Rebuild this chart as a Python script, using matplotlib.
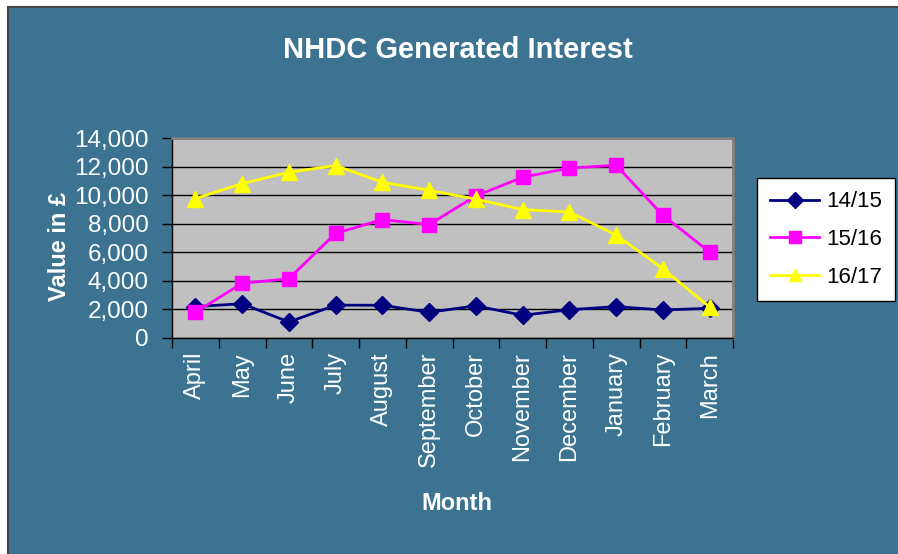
import matplotlib
matplotlib.use("Agg")
import matplotlib.pyplot as plt
from matplotlib.patches import Rectangle
from matplotlib.ticker import FuncFormatter, FixedLocator

plt.rcParams['font.family'] = ['Liberation Sans', 'DejaVu Sans']

months = ["April", "May", "June", "July", "August", "September", "October",
          "November", "December", "January", "February", "March"]
s1415 = [2200, 2400, 1120, 2300, 2290, 1800, 2250, 1590, 1980, 2200, 1960, 2080]
s1516 = [1800, 3830, 4150, 7330, 8290, 7940, 9950, 11250, 11900, 12090, 8590, 6020]
s1617 = [9760, 10810, 11600, 12070, 10900, 10340, 9720, 8990, 8820, 7210, 4850, 2170]
series_names = ["14/15", "15/16", "16/17"]

W, H = 898, 554
fig = plt.figure(figsize=(W / 100, H / 100), dpi=100)
fig.patch.set_facecolor("white")
bg = "#3B7390"

bgax = fig.add_axes([0, 0, 1, 1], zorder=-10)
bgax.set_xlim(0, W)
bgax.set_ylim(H, 0)
bgax.axis("off")
bgax.add_patch(Rectangle((7.5, 7), W, H, facecolor=bg,
                         edgecolor="#444444", linewidth=1.5))

x0, x1, y0, y1 = 172, 733, 138, 338
ax = fig.add_axes([x0 / W, 1 - y1 / H, (x1 - x0) / W, (y1 - y0) / H], zorder=1)
ax.set_facecolor("#C0C0C0")

x = list(range(len(months)))
ax.plot(x, s1415, color="#000080", marker="D", markersize=9, linewidth=2, label=series_names[0], zorder=3)
ax.plot(x, s1516, color="#FF00FF", marker="s", markersize=10, linewidth=2, label=series_names[1], zorder=3)
ax.plot(x, s1617, color="#FFFF00", marker="^", markersize=12, linewidth=2, label=series_names[2], zorder=3)

ax.set_xlim(-0.5, len(months) - 0.5)
ax.set_ylim(0, 14000)
ax.set_yticks(range(0, 14001, 2000))
ax.yaxis.set_major_formatter(FuncFormatter(lambda v, p: f"{int(v):,}"))
ax.grid(axis="y", color="black", linewidth=1)
ax.set_axisbelow(True)

ax.set_xticks(x)
ax.set_xticklabels(months, rotation=90, fontsize=17)
ax.xaxis.set_minor_locator(FixedLocator([i - 0.5 for i in range(len(months) + 1)]))
ax.tick_params(axis="x", which="major", length=0, pad=10, labelcolor="white")
ax.tick_params(axis="x", which="minor", length=7, width=1, color="black")
ax.tick_params(axis="y", length=7, width=1, color="black", labelsize=17.5, pad=10,
               labelcolor="white")

for side in ["top", "right"]:
    ax.spines[side].set_color("#808080")
    ax.spines[side].set_linewidth(2)
for side in ["left", "bottom"]:
    ax.spines[side].set_color("black")
    ax.spines[side].set_linewidth(1)

fig.text(458 / W, 1 - 50 / H, "NHDC Generated Interest", ha="center", va="center",
         fontsize=21, fontweight="bold", color="white")
fig.text(60 / W, 1 - 246 / H, "Value in £", ha="center", va="center", rotation=90,
         fontsize=17, fontweight="bold", color="white")
fig.text(457 / W, 1 - 503 / H, "Month", ha="center", va="center",
         fontsize=17, fontweight="bold", color="white")

leg = fig.legend(loc="upper left", bbox_to_anchor=(757 / W, 1 - 178 / H), fontsize=16,
                 frameon=True, fancybox=False, edgecolor="black", framealpha=1,
                 handlelength=2.2, borderpad=0.6, labelspacing=0.75, handletextpad=0.3,
                 borderaxespad=0)
leg.get_frame().set_linewidth(1)
for h in leg.legend_handles:
    h.set_markersize(8)

fig.savefig("out.png", dpi=100, facecolor=fig.get_facecolor())
